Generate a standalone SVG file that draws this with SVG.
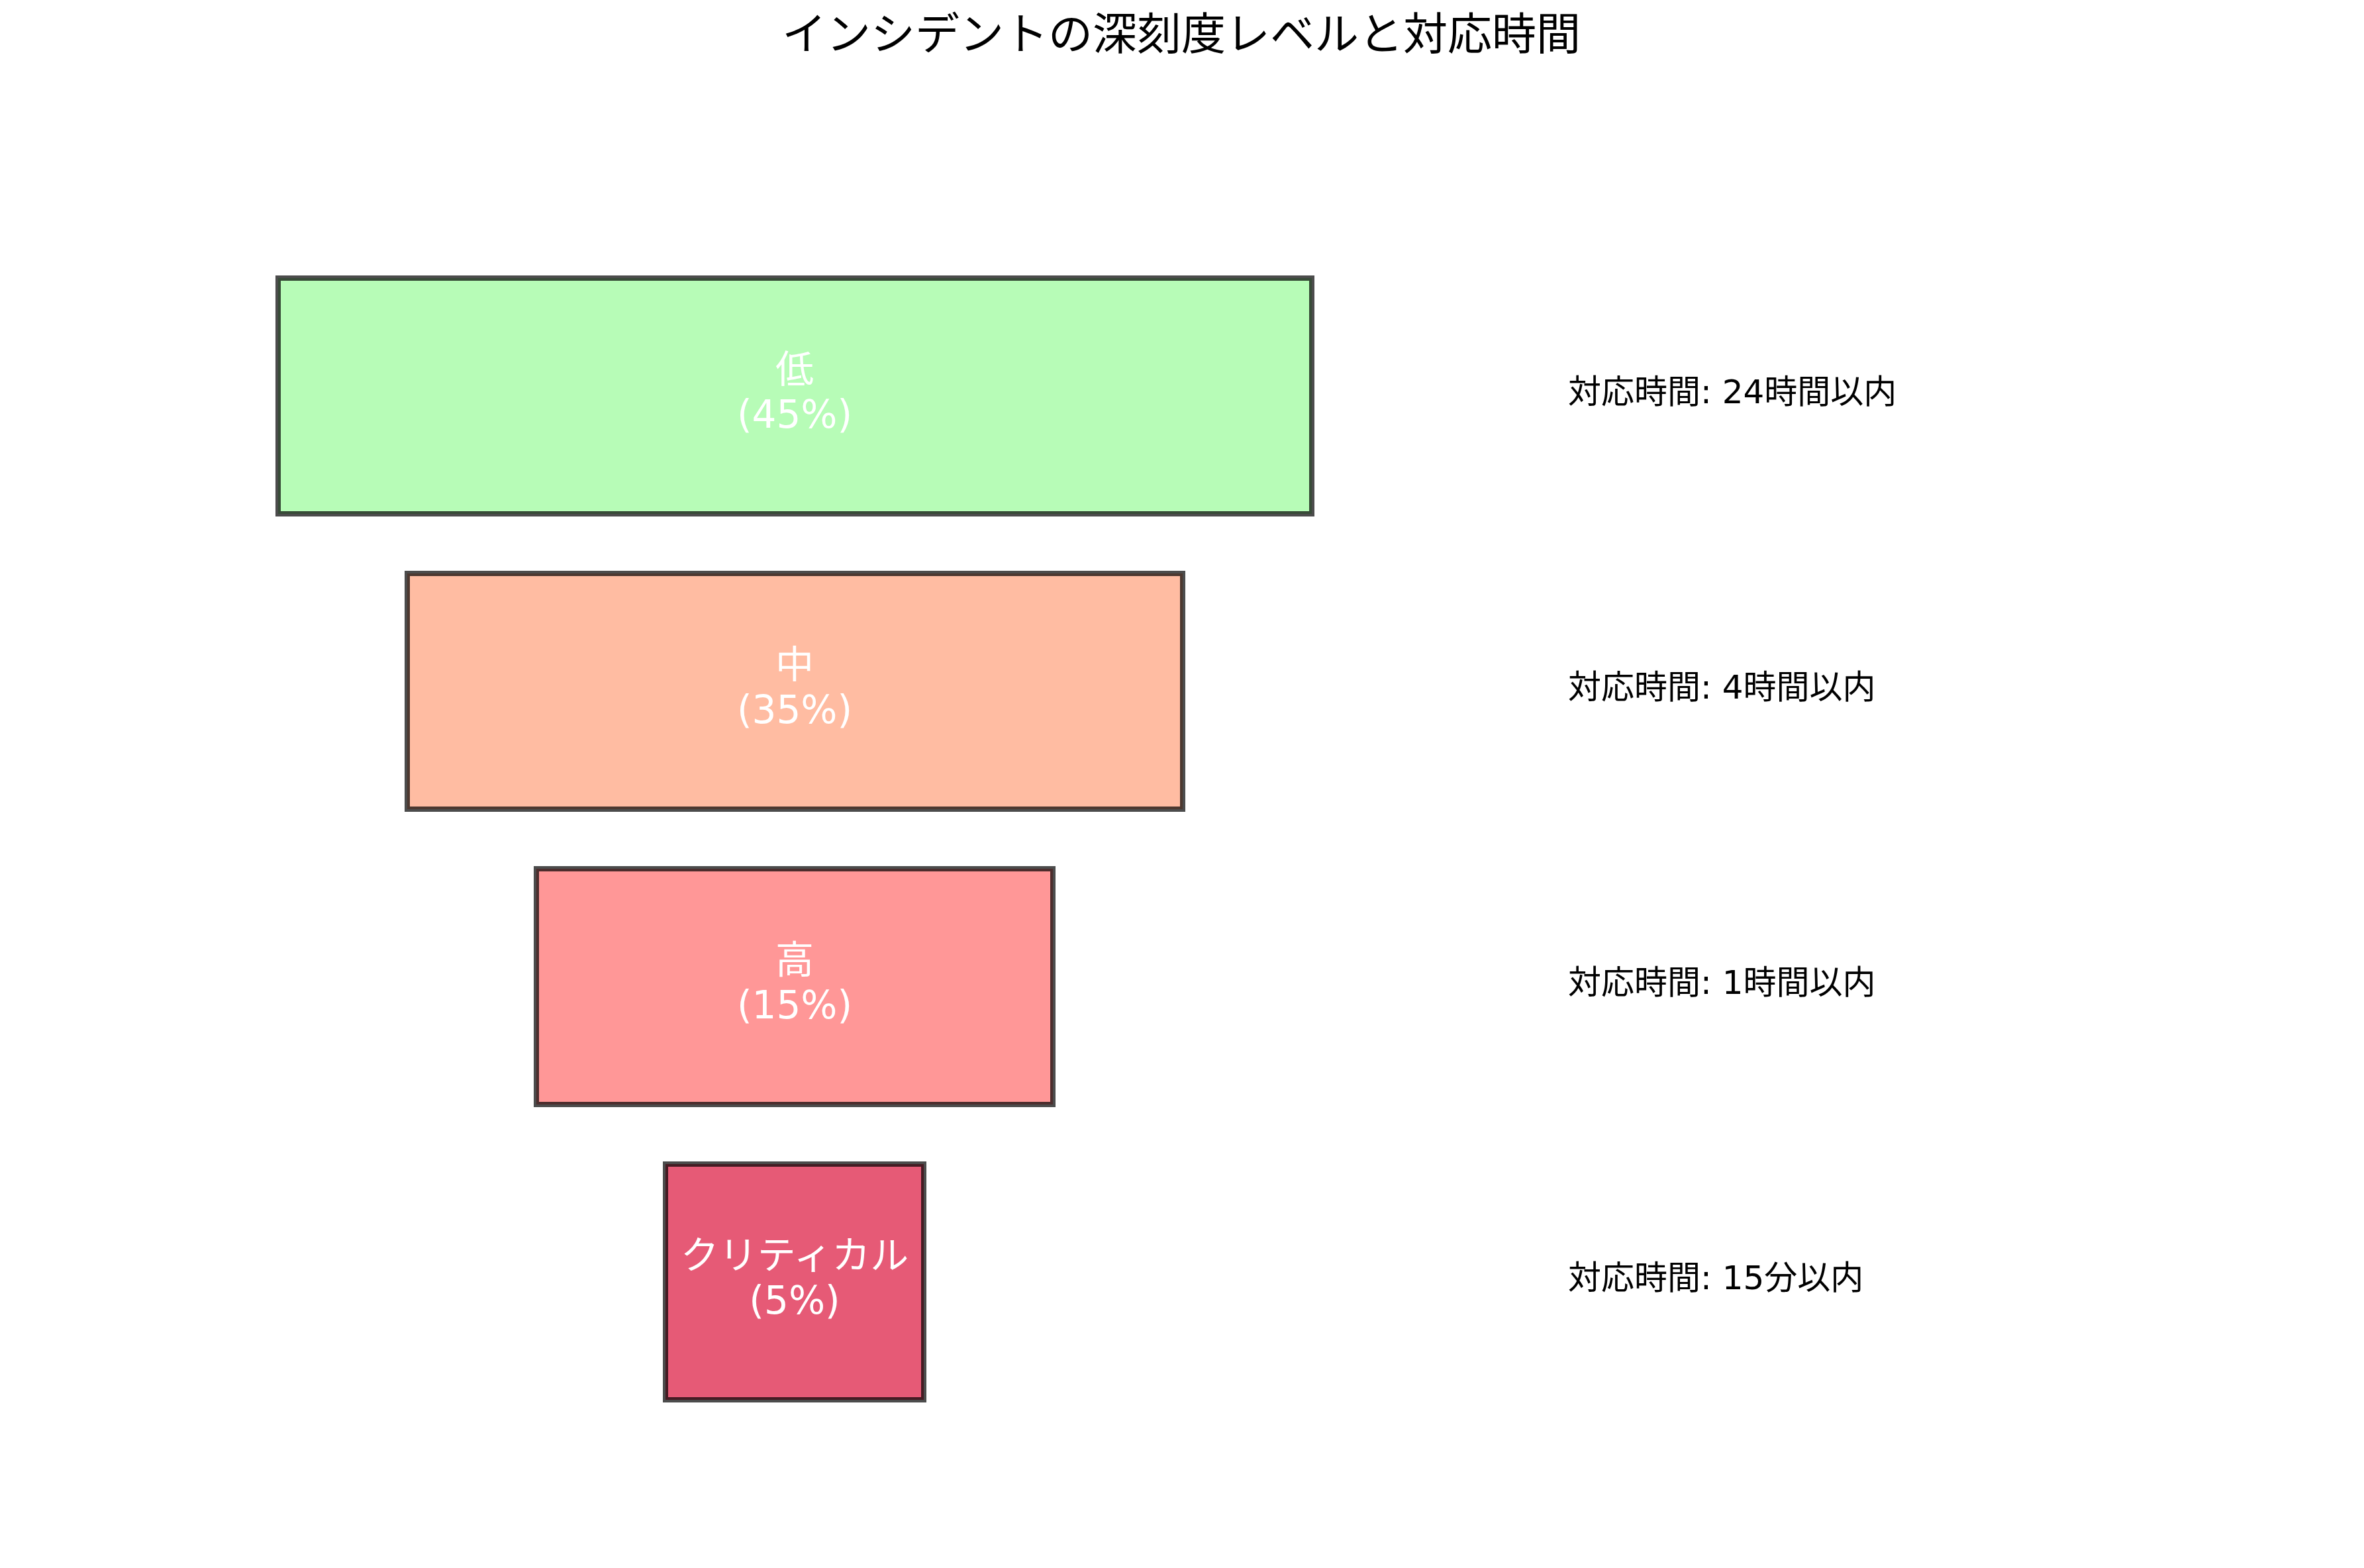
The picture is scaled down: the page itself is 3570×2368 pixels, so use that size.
<svg xmlns="http://www.w3.org/2000/svg" width="3570" height="2368" viewBox="0 0 3570 2368">
<style>
.box{stroke:#000;stroke-opacity:0.7;stroke-width:8}
.in{font-family:"DejaVu Sans","Noto Sans CJK JP",sans-serif;font-size:58px;fill:#fff;text-anchor:middle;dominant-baseline:central}
.lab{font-family:"DejaVu Sans","Noto Sans CJK JP",sans-serif;font-size:50px;fill:#000;dominant-baseline:central}
.title{font-family:"DejaVu Sans","Noto Sans CJK JP",sans-serif;font-size:67px;fill:#000;text-anchor:middle;dominant-baseline:central}
</style>
<rect width="3570" height="2368" fill="#fff"/>
<text class="title" x="1784" y="52">インシデントの深刻度レベルと対応時間</text>
<g id="connectors"></g>
<g id="low">
<rect class="box" x="420" y="420" width="1561" height="356" fill="#98FB98" fill-opacity="0.7"/>
<text class="in"><tspan x="1200" y="558">低</tspan><tspan x="1200" y="626">(45%)</tspan></text>
<text class="lab" x="2368" y="592">対応時間: 24時間以内</text>
</g>
<g id="mid">
<rect class="box" x="615" y="866" width="1171" height="356" fill="#FFA07A" fill-opacity="0.7"/>
<text class="in"><tspan x="1200" y="1004">中</tspan><tspan x="1200" y="1072">(35%)</tspan></text>
<text class="lab" x="2368" y="1038">対応時間: 4時間以内</text>
</g>
<g id="high">
<rect class="box" x="810" y="1312" width="780" height="356" fill="#FF6B6B" fill-opacity="0.7"/>
<text class="in"><tspan x="1200" y="1450">高</tspan><tspan x="1200" y="1518">(15%)</tspan></text>
<text class="lab" x="2368" y="1484">対応時間: 1時間以内</text>
</g>
<g id="critical">
<rect class="box" x="1005" y="1758" width="390" height="356" fill="#DC143C" fill-opacity="0.7"/>
<text class="in"><tspan x="1200" y="1896">クリティカル</tspan><tspan x="1200" y="1964">(5%)</tspan></text>
<text class="lab" x="2368" y="1930">対応時間: 15分以内</text>
</g>
</svg>
